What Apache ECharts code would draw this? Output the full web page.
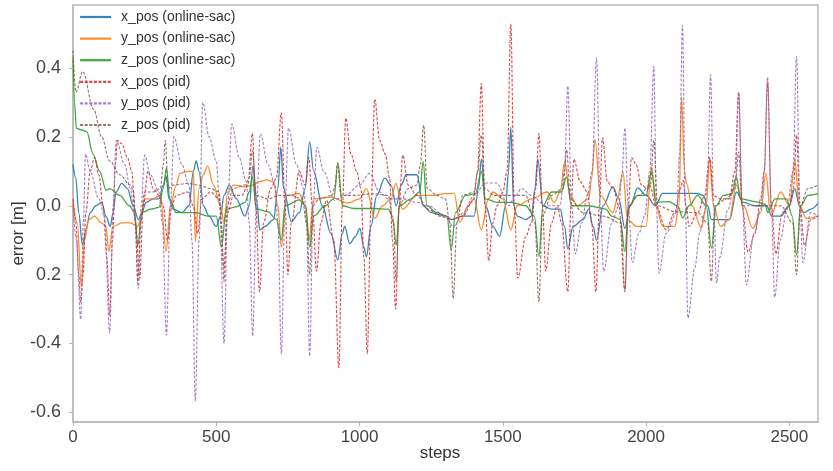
<!DOCTYPE html>
<html>
<head>
<meta charset="utf-8">
<script src="https://cdn.jsdelivr.net/npm/echarts@6/dist/echarts.min.js"></script>
<style>
  html, body { margin: 0; padding: 0; background: #fff; }
  #main { width: 833px; height: 471px; }
</style>
</head>
<body>
<div id="main"></div>
<script>
var seriesNames = ['x_pos (online-sac)', 'y_pos (online-sac)', 'z_pos (online-sac)',
                   'x_pos (pid)', 'y_pos (pid)', 'z_pos (pid)'];
var seriesColors = ['#1f77b4', '#ff7f0e', '#2ca02c', '#d62728', '#9467bd', '#8c564b'];

var yTickValues = [-0.6, -0.4, -0.2, 0, 0.2, 0.4];
var yTickText = ['-0.6', '-0.4', '0.2', '0.0', '0.2', '0.4'];

// [step, error] pairs
var xSac = [[0,0.12],[10,0.08],[20,-0.02],[33,-0.115],[45,-0.07],[60,-0.02],[80,0.0],[100,0.01],[115,-0.03],[130,-0.06],[140,-0.02],[150,0.04],[170,0.065],[190,0.05],[210,0.0],[228,-0.04],[240,-0.02],[255,0.01],[280,0.02],[300,0.02],[315,0.06],[325,0.085],[335,0.02],[350,-0.01],[380,-0.02],[405,0.0],[420,0.1],[430,0.13],[440,0.1],[455,0.0],[475,-0.03],[500,-0.06],[515,-0.03],[527,0.03],[545,0.06],[570,0.02],[600,-0.03],[615,0.0],[628,0.116],[640,0.02],[652,-0.07],[670,-0.06],[700,-0.04],[715,0.05],[725,0.17],[735,0.05],[762,-0.046],[790,-0.02],[810,0.05],[826,0.186],[840,0.1],[870,0.0],[900,-0.08],[924,-0.157],[940,-0.08],[948,-0.06],[966,-0.11],[985,-0.09],[1001,-0.066],[1015,-0.12],[1024,-0.148],[1040,-0.06],[1060,0.03],[1088,0.08],[1110,0.06],[1128,0.0],[1145,0.06],[1163,0.09],[1200,0.09],[1222,0.0],[1250,-0.02],[1300,-0.03],[1322,-0.04],[1360,-0.03],[1400,-0.03],[1415,0.05],[1425,0.135],[1440,0.0],[1465,-0.06],[1489,-0.088],[1510,0.0],[1520,0.1],[1528,0.228],[1538,0.0],[1550,-0.03],[1580,-0.04],[1600,-0.03],[1612,0.05],[1622,0.135],[1640,0.0],[1670,-0.01],[1700,-0.01],[1715,-0.06],[1727,-0.125],[1745,-0.06],[1780,-0.04],[1800,-0.01],[1815,-0.06],[1827,-0.1],[1850,0.0],[1884,0.055],[1905,0.02],[1926,-0.066],[1945,0.0],[1971,0.052],[2000,0.03],[2033,0.0],[2058,0.036],[2120,0.036],[2175,0.036],[2200,0.03],[2215,0.0],[2228,-0.04],[2257,-0.04],[2292,-0.04],[2315,0.04],[2340,0.01],[2380,0.0],[2420,0.0],[2440,-0.03],[2470,-0.03],[2500,0.0],[2519,0.05],[2535,0.0],[2550,-0.02],[2575,-0.01],[2600,0.007]];

var ySac = [[0,0.015],[15,-0.05],[29,-0.235],[40,-0.1],[55,-0.04],[75,-0.03],[100,-0.05],[115,-0.06],[125,-0.133],[140,-0.06],[170,-0.05],[200,-0.05],[226,-0.06],[235,-0.04],[250,0.02],[280,0.02],[305,0.03],[325,-0.133],[340,0.0],[360,0.06],[373,0.094],[400,0.1],[420,0.1],[427,-0.104],[440,0.05],[455,0.09],[470,0.116],[490,0.06],[515,0.0],[527,-0.05],[540,0.04],[560,0.06],[600,0.055],[627,0.06],[650,0.07],[675,0.075],[700,0.07],[715,0.0],[727,-0.12],[745,0.03],[790,0.035],[810,0.0],[823,-0.1],[840,0.02],[900,0.025],[960,0.008],[1000,0.02],[1024,0.05],[1053,-0.036],[1080,0.0],[1110,0.02],[1127,0.065],[1150,-0.01],[1200,0.03],[1250,0.03],[1300,0.035],[1330,0.036],[1350,-0.047],[1380,0.0],[1400,0.02],[1425,-0.07],[1450,0.02],[1466,0.04],[1500,0.02],[1528,-0.07],[1550,0.0],[1600,0.02],[1655,0.04],[1680,0.01],[1700,0.04],[1716,0.128],[1735,0.03],[1760,0.0],[1800,0.02],[1810,0.08],[1822,0.193],[1840,0.03],[1884,-0.02],[1900,0.02],[1919,0.1],[1935,-0.04],[1967,-0.06],[2000,-0.06],[2019,0.113],[2035,0.0],[2058,-0.06],[2100,-0.06],[2115,0.0],[2124,0.316],[2134,0.1],[2141,0.065],[2160,0.0],[2193,-0.065],[2210,0.0],[2222,0.138],[2235,0.0],[2260,-0.06],[2290,-0.04],[2315,0.06],[2340,0.0],[2373,-0.066],[2400,-0.02],[2418,0.094],[2435,-0.03],[2470,0.04],[2500,0.0],[2519,0.132],[2535,0.0],[2560,-0.037],[2600,-0.03]];

var zSac = [[0,0.43],[5,0.3],[12,0.225],[30,0.22],[48,0.215],[70,0.15],[93,0.1],[116,0.045],[128,0.05],[163,0.03],[197,0.0],[215,-0.02],[226,-0.115],[240,-0.02],[270,-0.01],[300,-0.005],[315,0.05],[326,0.11],[338,0.02],[360,-0.02],[400,-0.02],[430,-0.02],[470,-0.03],[500,-0.03],[518,-0.12],[535,-0.01],[570,-0.003],[600,0.01],[615,0.04],[626,0.084],[640,-0.01],[680,-0.017],[710,-0.04],[727,-0.1],[740,0.0],[790,0.017],[812,0.0],[826,-0.12],[840,-0.03],[880,0.0],[910,0.02],[925,0.123],[940,0.0],[980,-0.008],[1050,-0.008],[1100,-0.01],[1115,-0.03],[1128,-0.114],[1140,0.0],[1180,0.02],[1210,0.04],[1222,0.128],[1235,0.0],[1270,-0.02],[1305,-0.03],[1320,-0.128],[1335,-0.02],[1370,0.03],[1405,0.035],[1425,0.1],[1440,0.02],[1480,0.01],[1530,0.01],[1580,0.0],[1610,-0.03],[1626,-0.148],[1640,0.0],[1670,0.04],[1705,0.04],[1722,0.084],[1740,0.0],[1800,0.0],[1860,-0.01],[1880,-0.03],[1910,-0.04],[1926,-0.133],[1940,0.0],[1970,0.03],[2000,0.03],[2019,0.1],[2035,0.01],[2080,0.012],[2110,0.0],[2128,-0.035],[2150,0.0],[2180,0.03],[2210,0.0],[2228,-0.123],[2245,0.0],[2270,0.03],[2300,0.035],[2315,0.084],[2330,0.02],[2380,0.012],[2415,0.005],[2425,-0.02],[2450,0.02],[2490,0.02],[2510,-0.03],[2525,-0.143],[2540,0.0],[2565,0.03],[2600,0.035]];

var xPid = [[0,0.02],[10,-0.05],[20,-0.2],[27,-0.28],[35,-0.2],[45,-0.02],[60,0.1],[75,0.14],[90,0.09],[105,0.0],[118,-0.15],[128,-0.32],[138,-0.1],[148,0.12],[155,0.19],[170,0.18],[190,0.14],[205,0.1],[218,-0.05],[233,-0.21],[245,0.0],[262,0.1],[280,0.05],[300,0.03],[315,0.0],[330,-0.1],[345,0.0],[360,0.03],[400,0.04],[420,0.0],[435,-0.08],[450,0.02],[480,0.04],[510,0.02],[527,-0.18],[540,-0.02],[560,0.03],[590,0.03],[610,0.06],[626,0.21],[638,0.0],[651,-0.25],[665,-0.05],[690,0.05],[710,0.08],[727,0.27],[740,0.0],[750,-0.2],[762,-0.05],[790,0.1],[810,0.06],[823,0.14],[835,0.0],[850,-0.19],[865,-0.05],[885,0.016],[910,-0.1],[928,-0.47],[940,0.0],[952,0.254],[970,0.15],[990,0.1],[1005,0.05],[1015,-0.15],[1027,-0.43],[1040,0.0],[1053,0.31],[1070,0.19],[1090,0.15],[1105,0.08],[1115,-0.1],[1126,-0.3],[1138,0.0],[1151,0.147],[1170,0.06],[1200,0.03],[1240,-0.01],[1280,-0.03],[1320,-0.04],[1360,-0.03],[1397,0.016],[1412,0.1],[1425,0.355],[1438,0.0],[1451,-0.16],[1465,-0.05],[1480,0.0],[1500,0.04],[1515,0.1],[1528,0.527],[1540,0.0],[1552,-0.21],[1580,-0.09],[1600,-0.05],[1615,0.05],[1626,0.21],[1638,0.0],[1650,-0.19],[1670,-0.05],[1690,0.0],[1705,-0.05],[1727,-0.25],[1738,0.0],[1748,0.135],[1770,0.07],[1795,0.04],[1810,-0.05],[1825,-0.25],[1837,0.0],[1848,0.197],[1865,0.07],[1885,0.05],[1905,0.0],[1926,-0.245],[1938,0.0],[1949,0.14],[1965,0.12],[1984,0.06],[2005,0.05],[2013,0.06],[2035,0.0],[2070,-0.07],[2100,-0.02],[2120,0.05],[2129,0.074],[2140,0.0],[2150,-0.06],[2180,-0.02],[2205,0.03],[2222,0.14],[2235,0.03],[2260,0.02],[2290,0.02],[2310,0.1],[2323,0.33],[2335,0.0],[2356,-0.135],[2380,-0.08],[2400,0.02],[2412,0.1],[2424,0.36],[2437,0.0],[2453,-0.14],[2475,-0.02],[2500,0.0],[2514,0.05],[2525,0.205],[2537,0.0],[2553,-0.115],[2575,-0.04],[2600,-0.03]];

var yPid = [[0,0.0],[12,-0.1],[27,-0.33],[36,-0.05],[44,0.15],[60,0.1],[90,0.02],[110,-0.03],[128,-0.37],[140,0.0],[151,0.19],[180,0.12],[200,0.05],[215,-0.03],[228,-0.24],[238,0.0],[250,0.147],[270,0.09],[300,0.04],[312,-0.05],[326,-0.375],[340,0.0],[352,0.2],[380,0.12],[405,0.06],[415,-0.1],[427,-0.568],[440,-0.1],[453,0.3],[475,0.2],[500,0.13],[512,0.0],[527,-0.4],[540,0.0],[554,0.237],[580,0.14],[605,0.07],[615,-0.05],[627,-0.378],[640,0.0],[654,0.21],[680,0.12],[705,0.06],[715,-0.05],[727,-0.43],[740,0.0],[752,0.225],[780,0.12],[805,0.05],[815,-0.05],[826,-0.436],[838,0.0],[851,0.17],[875,0.1],[912,0.016],[950,0.03],[1000,0.06],[1035,0.094],[1070,0.04],[1100,0.02],[1150,0.02],[1200,0.01],[1240,0.0],[1300,-0.03],[1327,-0.06],[1362,-0.02],[1400,0.03],[1440,0.066],[1478,0.066],[1520,0.0],[1545,0.03],[1565,0.05],[1600,0.03],[1650,0.0],[1700,0.0],[1715,0.1],[1727,0.347],[1740,0.0],[1753,-0.14],[1775,-0.05],[1795,0.03],[1812,0.1],[1827,0.43],[1840,0.0],[1852,-0.19],[1880,-0.05],[1905,0.0],[1915,0.08],[1926,0.226],[1938,0.0],[1952,-0.165],[1975,-0.08],[1995,-0.03],[2013,0.1],[2027,0.405],[2036,0.0],[2045,-0.196],[2070,-0.08],[2107,-0.02],[2117,0.15],[2127,0.524],[2137,0.0],[2146,-0.326],[2170,-0.18],[2187,-0.08],[2205,-0.02],[2215,0.1],[2225,0.38],[2236,0.0],[2246,-0.225],[2257,-0.15],[2286,-0.01],[2312,0.08],[2323,0.327],[2336,0.0],[2350,-0.23],[2377,-0.08],[2400,-0.01],[2413,0.1],[2424,0.373],[2437,0.0],[2449,-0.265],[2468,-0.1],[2492,-0.01],[2513,0.1],[2525,0.434],[2537,0.0],[2547,-0.165],[2574,-0.02],[2600,-0.03]];

var zPid = [[0,0.45],[10,0.33],[34,0.39],[72,0.28],[100,0.2],[128,0.13],[163,0.09],[200,0.06],[212,0.04],[218,-0.05],[226,-0.22],[236,-0.05],[250,0.04],[280,0.04],[305,0.05],[315,0.12],[322,0.19],[332,0.05],[350,0.06],[400,0.065],[440,0.06],[480,0.05],[510,0.04],[518,-0.05],[527,-0.22],[537,0.0],[560,0.05],[600,0.06],[615,0.08],[626,0.16],[640,0.03],[680,0.02],[720,0.03],[760,0.03],[800,0.02],[815,-0.05],[826,-0.2],[836,0.0],[860,0.02],[905,0.03],[915,0.06],[923,0.125],[935,0.03],[980,0.03],[1050,0.035],[1100,0.03],[1118,-0.05],[1128,-0.22],[1138,0.0],[1170,0.05],[1200,0.06],[1212,0.12],[1224,0.234],[1236,0.05],[1270,0.03],[1300,0.02],[1315,-0.05],[1327,-0.27],[1340,-0.05],[1360,0.03],[1400,0.04],[1413,0.1],[1425,0.205],[1437,0.05],[1470,0.03],[1530,0.03],[1580,0.03],[1612,-0.05],[1626,-0.28],[1638,-0.03],[1670,0.03],[1710,0.05],[1723,0.163],[1735,0.02],[1780,-0.02],[1850,-0.03],[1912,-0.05],[1926,-0.25],[1938,0.0],[1975,0.03],[2015,0.06],[2027,0.19],[2040,0.0],[2100,-0.017],[2180,-0.02],[2215,-0.05],[2228,-0.22],[2240,0.0],[2280,0.02],[2310,0.05],[2323,0.156],[2335,0.0],[2400,0.0],[2470,0.0],[2512,-0.05],[2525,-0.2],[2538,0.0],[2565,0.05],[2600,0.06]];

var seriesData = [xSac, ySac, zSac, xPid, yPid, zPid];

var chartDom = document.getElementById('main');
var myChart = echarts.init(chartDom, null, { renderer: 'canvas' });
var option;

var font = 'Liberation Sans, Arial, sans-serif';

option = {
    animation: false,
    grid: {
        left: 73, right: 15, top: 5, bottom: 49,
        containLabel: false,
        outerBoundsMode: 'none',
        show: true,
        borderColor: '#b8b8b8',
        borderWidth: 1.5
    },
    legend: {
        orient: 'vertical',
        left: 79,
        top: 10,
        padding: 0,
        itemWidth: 31,
        itemHeight: 14,
        itemGap: 7.6,
        data: seriesNames,
        itemStyle: { opacity: 0, borderWidth: 0 },
        lineStyle: { width: 2.2 },
        textStyle: { fontFamily: font, fontSize: 14, color: '#333', padding: [0, 0, 0, 5] }
    },
    xAxis: {
        type: 'value',
        min: 0,
        max: 2600,
        interval: 500,
        name: 'steps',
        nameLocation: 'middle',
        nameGap: 23,
        nameMoveOverlap: false,
        nameTextStyle: { fontFamily: font, fontSize: 17, color: '#333', padding: [0, 11, 0, 0] },
        axisLine: { onZero: false, lineStyle: { color: '#b8b8b8', width: 1.5 } },
        axisTick: { show: true, length: 4, lineStyle: { color: '#b8b8b8' } },
        axisLabel: {
            fontFamily: font, fontSize: 17, color: '#444', margin: 7, showMaxLabel: false,
            formatter: function (v) { return String(v); }
        },
        splitLine: { show: false }
    },
    yAxis: {
        type: 'value',
        min: -0.628,
        max: 0.583,
        splitNumber: 6,
        name: 'error [m]',
        nameLocation: 'middle',
        nameRotate: 90,
        nameGap: 46,
        nameMoveOverlap: false,
        nameTextStyle: { fontFamily: font, fontSize: 17, color: '#333', padding: [0, 40, 0, 0] },
        axisLine: { show: true, onZero: false, lineStyle: { color: '#b8b8b8', width: 1.5 } },
        axisTick: { show: true, length: 4, lineStyle: { color: '#b8b8b8' } },
        axisLabel: {
            fontFamily: font, fontSize: 18, color: '#444', margin: 12,
            showMinLabel: false, showMaxLabel: false,
            formatter: function (v) {
                for (var i = 0; i < yTickValues.length; i++) {
                    if (Math.abs(v - yTickValues[i]) < 1e-6) return yTickText[i];
                }
                return '';
            }
        },
        splitLine: { show: false }
    },
    series: seriesData.map(function (d, i) {
        var dashed = i >= 3;
        return {
            name: seriesNames[i],
            type: 'line',
            data: d,
            symbol: 'none',
            smooth: 0.35,
            smoothMonotone: 'x',
            color: seriesColors[i],
            lineStyle: {
                color: seriesColors[i],
                width: dashed ? 1.1 : 1.3,
                type: dashed ? [3, 1.6] : 'solid',
                opacity: dashed ? 0.85 : 0.9
            }
        };
    })
};

option && myChart.setOption(option);
</script>
</body>
</html>
